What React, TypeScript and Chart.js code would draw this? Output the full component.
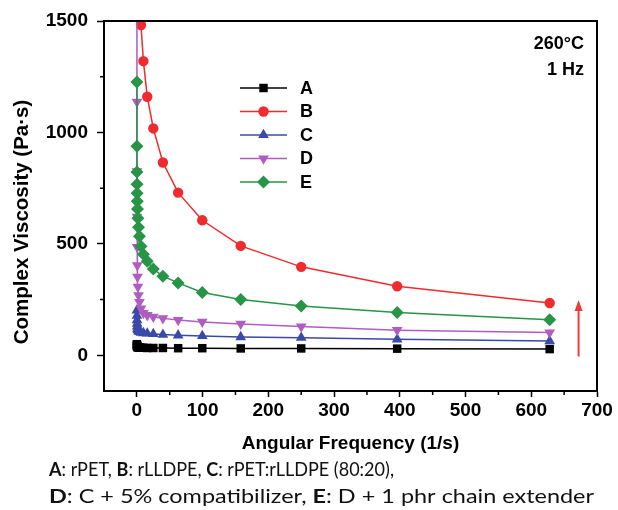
import React, { useEffect, useRef } from 'react';
import { Chart, registerables } from 'chart.js';
import { drawPoint } from 'chart.js/helpers';

Chart.register(...registerables);

// ---------- data ----------
const frequencies = [0.0628, 0.0995, 0.158, 0.25, 0.396, 0.628, 0.995, 1.58, 2.5, 3.96, 6.28, 9.95, 15.8, 25.0, 39.6, 62.8, 99.5, 158, 250, 396, 628];
const seriesLabels = ['A', 'B', 'C', 'D', 'E'];
const seriesA = [50, 46, 43, 41, 39, 38, 37, 36, 35, 35, 34, 34, 33, 33, 33, 32, 32, 31, 31, 30, 28];
const seriesB = [null, null, null, null, null, null, null, null, 2200, 1800, 1482, 1320, 1160, 1018, 865, 730, 606, 491, 397, 310, 235];
const seriesC = [null, 202, 178, 158, 142, 130, 120, 114, 109, 105, 102, 100, 98, 96, 93, 90, 87, 82, 79, 72, 64];
const seriesD = [1600, 1137, 826, 621, 486, 404, 352, 307, 269, 239, 210, 190, 180, 173, 166, 158, 150, 141, 129, 113, 102];
const seriesE = [1226, 938, 822, 768, 727, 691, 656, 615, 575, 534, 489, 453, 422, 387, 355, 325, 282, 251, 221, 192, 160];
const xTickValues = [0, 100, 200, 300, 400, 500, 600, 700];
const xMinorTickValues = [50, 150, 250, 350, 450, 550, 650];
const yTickValues = [0, 500, 1000, 1500];
const yMinorTickValues = [250, 750, 1250];
const conditionLines = ['260°C', '1 Hz'];
const xAxisTitle = 'Angular Frequency (1/s)';
const yAxisTitle = 'Complex Viscosity (Pa·s)';
const captionLine1: [string, boolean][] = [['A', true], [': rPET, ', false], ['B', true], [': rLLDPE, ', false], ['C', true], [': rPET:rLLDPE (80:20),', false]];
const captionLine2: [string, boolean][] = [['D', true], [': C + 5% compatibilizer, ', false], ['E', true], [': D + 1 phr chain extender', false]];
const arrowX = 672;
const arrowFrom = -5;
const arrowTo = 248;

// ---------- styles ----------
const W = 618;
const H = 510;
const FONT = '"Liberation Sans", Arial, sans-serif';
const CAPTION_FONT = 'Lato, "Open Sans", sans-serif';
const CAPTION_SIZE = 18.5;
const seriesValues = [seriesA, seriesB, seriesC, seriesD, seriesE];
const seriesStyles = [
  { color: '#000000', pointStyle: 'rect', radius: 6, rotation: 0, order: 4 },
  { color: '#ef2b2d', pointStyle: 'circle', radius: 5.2, rotation: 0, order: 3 },
  { color: '#3a4aa8', pointStyle: 'triangle', radius: 6.2, rotation: 0, order: 2 },
  { color: '#b05cc0', pointStyle: 'triangle', radius: 6.2, rotation: 180, order: 1 },
  { color: '#279446', pointStyle: 'rectRot', radius: 6.5, rotation: 0, order: 0 },
];

function toPoints(values: (number | null)[]) {
  const pts: { x: number; y: number }[] = [];
  frequencies.forEach((f, i) => {
    const v = values[i];
    if (v !== null && v !== undefined) pts.push({ x: f, y: v });
  });
  return pts;
}

function richWidth(ctx: CanvasRenderingContext2D, segs: [string, boolean][], size: number) {
  let w = 0;
  for (const [t, b] of segs) {
    ctx.font = `${b ? 'bold ' : ''}${size}px ${CAPTION_FONT}`;
    w += ctx.measureText(t).width;
  }
  return w;
}

function drawRich(ctx: CanvasRenderingContext2D, segs: [string, boolean][], x: number, y: number, size: number, targetWidth: number) {
  const natural = richWidth(ctx, segs, size);
  const sx = targetWidth / natural;
  ctx.save();
  ctx.translate(x, y);
  ctx.scale(sx, 1);
  let cx = 0;
  for (const [t, b] of segs) {
    ctx.font = `${b ? 'bold ' : ''}${size}px ${CAPTION_FONT}`;
    ctx.fillText(t, cx, 0);
    cx += ctx.measureText(t).width;
  }
  ctx.restore();
}

const decorPlugin = {
  id: 'decor',
  afterDraw(chart: any) {
    const { ctx, chartArea: ca, scales } = chart;
    const xs = scales.x;
    const ys = scales.y;
    ctx.save();
    // frame top & right
    ctx.strokeStyle = '#000';
    ctx.lineWidth = 2;
    ctx.beginPath();
    ctx.moveTo(ca.left, ca.top);
    ctx.lineTo(ca.right, ca.top);
    ctx.lineTo(ca.right, ca.bottom);
    ctx.stroke();
    // minor ticks
    ctx.lineWidth = 1.5;
    ctx.beginPath();
    xMinorTickValues.forEach((v) => {
      const px = xs.getPixelForValue(v);
      ctx.moveTo(px, ca.bottom);
      ctx.lineTo(px, ca.bottom + 4);
    });
    yMinorTickValues.forEach((v) => {
      const py = ys.getPixelForValue(v);
      ctx.moveTo(ca.left, py);
      ctx.lineTo(ca.left - 4, py);
    });
    ctx.stroke();

    // arrow
    const ax = xs.getPixelForValue(arrowX);
    const ay0 = ys.getPixelForValue(arrowFrom);
    const ay1 = ys.getPixelForValue(arrowTo);
    ctx.strokeStyle = '#ee3a3a';
    ctx.fillStyle = '#ee3a3a';
    ctx.lineWidth = 2;
    ctx.beginPath();
    ctx.moveTo(ax, ay0);
    ctx.lineTo(ax, ay1 + 8);
    ctx.stroke();
    ctx.beginPath();
    ctx.moveTo(ax, ay1);
    ctx.lineTo(ax - 4, ay1 + 11);
    ctx.lineTo(ax + 4, ay1 + 11);
    ctx.closePath();
    ctx.fill();

    // condition text
    ctx.fillStyle = '#000';
    ctx.font = `bold 18px ${FONT}`;
    ctx.textAlign = 'right';
    ctx.textBaseline = 'middle';
    conditionLines.forEach((t, i) => ctx.fillText(t, ca.right - 13, ca.top + 23 + i * 26));

    // legend
    const lx0 = ca.left + 136;
    const lx1 = ca.left + 183;
    const lxm = (lx0 + lx1) / 2;
    chart.data.datasets.forEach((ds: any, i: number) => {
      const y = ca.top + 67 + i * 23.5;
      ctx.strokeStyle = ds.borderColor;
      ctx.lineWidth = 1.5;
      ctx.beginPath();
      ctx.moveTo(lx0, y);
      ctx.lineTo(lx1, y);
      ctx.stroke();
      ctx.fillStyle = ds.backgroundColor;
      drawPoint(ctx, { pointStyle: ds.pointStyle, rotation: ds.pointRotation || 0, radius: ds.pointRadius, borderWidth: 0 }, lxm, y);
      ctx.fillStyle = '#000';
      ctx.font = `bold 18px ${FONT}`;
      ctx.textAlign = 'left';
      ctx.textBaseline = 'middle';
      ctx.fillText(ds.label, ca.left + 196, y + 1);
    });

    // axis titles
    ctx.fillStyle = '#000';
    ctx.textAlign = 'center';
    ctx.textBaseline = 'middle';
    ctx.font = `bold 19px ${FONT}`;
    ctx.fillText(xAxisTitle, (ca.left + ca.right) / 2, ca.bottom + 53);
    ctx.save();
    ctx.translate(22, (ca.top + ca.bottom) / 2 + 16);
    ctx.rotate(-Math.PI / 2);
    ctx.font = `bold 20.5px ${FONT}`;
    ctx.fillText(yAxisTitle, 0, 0);
    ctx.restore();

    // caption
    ctx.textAlign = 'left';
    ctx.textBaseline = 'middle';
    ctx.fillStyle = '#111';
    drawRich(ctx, captionLine1, 49, ca.bottom + 79, CAPTION_SIZE, 345);
    drawRich(ctx, captionLine2, 49, ca.bottom + 106, CAPTION_SIZE, 545);
    ctx.restore();
  },
};

export default function App() {
  const canvasRef = useRef<HTMLCanvasElement | null>(null);

  useEffect(() => {
    const canvas = canvasRef.current;
    if (!canvas) return;
    const datasets = seriesLabels.map((label, i) => {
      const st = seriesStyles[i];
      return {
        label,
        data: toPoints(seriesValues[i]),
        borderColor: st.color,
        backgroundColor: st.color,
        borderWidth: 1.5,
        pointStyle: st.pointStyle,
        pointRadius: st.radius,
        pointRotation: st.rotation,
        pointBorderWidth: 0,
        pointHoverRadius: st.radius,
        tension: 0,
        order: st.order,
      };
    });
    const chart = new Chart(canvas, {
      type: 'line',
      data: { datasets } as any,
      options: {
        responsive: false,
        animation: false,
        devicePixelRatio: 1,
        layout: { padding: { top: 21, right: 21, left: 0, bottom: 0 } },
        plugins: { legend: { display: false }, tooltip: { enabled: false }, title: { display: false } },
        scales: {
          x: {
            type: 'linear',
            min: -50,
            max: 700,
            afterBuildTicks: (s: any) => {
              s.ticks = xTickValues.map((v) => ({ value: v }));
            },
            afterFit: (s: any) => {
              s.height = H - 391;
            },
            grid: { drawOnChartArea: false, drawTicks: true, tickLength: 6, color: '#000', tickWidth: 1.5 },
            border: { display: true, color: '#000', width: 2 },
            ticks: {
              font: { family: FONT, size: 19, weight: 'bold' },
              color: '#000',
              padding: 2,
              maxRotation: 0,
              autoSkip: false,
              callback: (v: any) => String(v),
            },
          },
          y: {
            type: 'linear',
            min: -160,
            max: 1500,
            afterBuildTicks: (s: any) => {
              s.ticks = yTickValues.map((v) => ({ value: v }));
            },
            afterFit: (s: any) => {
              s.width = 104;
            },
            grid: { drawOnChartArea: false, drawTicks: true, tickLength: 7, color: '#000', tickWidth: 1.5 },
            border: { display: true, color: '#000', width: 2 },
            ticks: {
              font: { family: FONT, size: 19, weight: 'bold' },
              color: '#000',
              padding: 9,
              autoSkip: false,
              callback: (v: any) => String(v),
            },
          },
        },
      } as any,
      plugins: [decorPlugin],
    });
    return () => chart.destroy();
  }, []);

  return (
    <div style={{ position: 'fixed', left: 0, top: 0, width: W, height: H, background: '#fff' }}>
      <canvas ref={canvasRef} width={W} height={H} style={{ display: 'block', width: W, height: H }} />
    </div>
  );
}
